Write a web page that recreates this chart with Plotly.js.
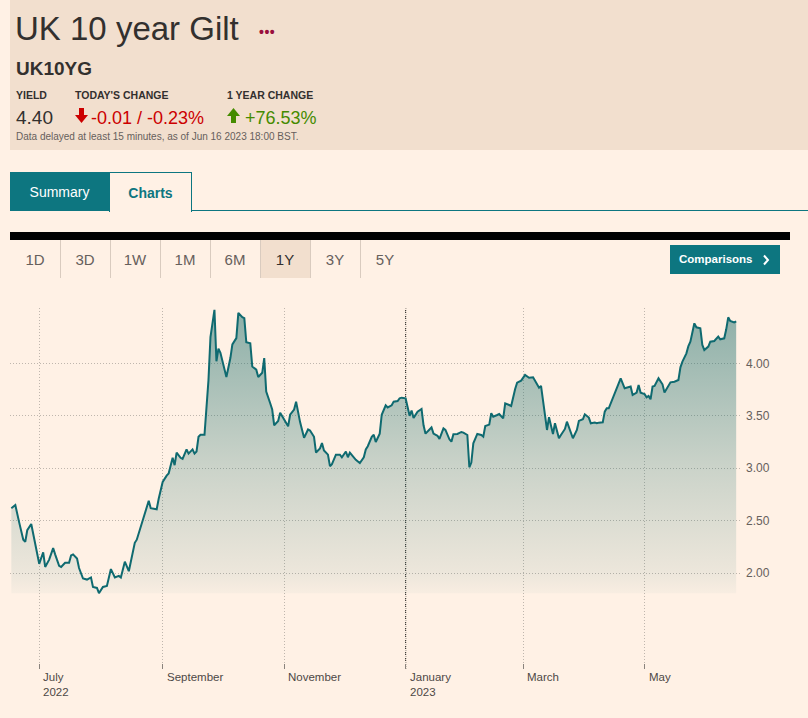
<!DOCTYPE html>
<html>
<head>
<meta charset="utf-8">
<script src="https://cdn.plot.ly/plotly-3.0.1.min.js"></script>
<style>
  html, body { margin:0; padding:0; }
  body { width:808px; height:718px; overflow:hidden; background:#FFF1E5; position:relative;
         font-family:'Liberation Sans', Arial, sans-serif; color:#33302e; }
  .abs { position:absolute; line-height:1; white-space:nowrap; }
  .lbl { font-size:10.5px; font-weight:bold; color:#33302e; }
  .big { font-size:19px; }
  .btn { position:absolute; top:240px; height:38px; width:50px; display:flex; align-items:center;
         justify-content:center; font-size:15px; color:#66605c; }
  .sep { position:absolute; top:240px; height:38px; width:1px; background:#d9cbbf; }
</style>
</head>
<body>
<!-- header -->
<div class="abs" style="left:10px;top:0;width:798px;height:150px;background:#F2DFCE"></div>
<div class="abs" style="left:15px;top:12px;font-size:33px;color:#33302e">UK 10 year Gilt</div>
<div class="abs" style="left:259px;top:25px;font-size:14px;font-weight:bold;color:#990F3D;letter-spacing:0.5px">•••</div>
<div class="abs" style="left:16px;top:59px;font-size:19px;font-weight:bold;color:#33302e">UK10YG</div>
<div class="abs lbl" style="left:16px;top:90px">YIELD</div>
<div class="abs lbl" style="left:75px;top:90px">TODAY'S CHANGE</div>
<div class="abs lbl" style="left:227px;top:90px">1 YEAR CHANGE</div>
<div class="abs big" style="left:16px;top:108px;color:#33302e">4.40</div>
<svg class="abs" style="left:75px;top:108px" width="13" height="15" viewBox="0 0 13 15">
  <polygon points="4,0 9,0 9,7 13,7 6.5,15 0,7 4,7" fill="#CC0000"/>
</svg>
<div class="abs" style="left:91px;top:109px;font-size:18px;color:#CC0000">-0.01 / -0.23%</div>
<svg class="abs" style="left:227px;top:108px" width="13" height="15" viewBox="0 0 13 15">
  <polygon points="6.5,0 13,8 9,8 9,15 4,15 4,8 0,8" fill="#458B00"/>
</svg>
<div class="abs" style="left:245px;top:109px;font-size:18px;color:#458B00">+76.53%</div>
<div class="abs" style="left:16px;top:132px;font-size:10px;color:#66605c">Data delayed at least 15 minutes, as of Jun 16 2023 18:00 BST.</div>

<!-- tabs -->
<div class="abs" style="left:10px;top:172px;width:99px;height:39px;background:#0D7680;color:#fff;font-size:14px;display:flex;align-items:center;justify-content:center">Summary</div>
<div class="abs" style="left:109px;top:172px;width:81px;height:39px;border:1px solid #0D7680;border-bottom:none;color:#0D7680;font-size:14px;font-weight:bold;display:flex;align-items:center;justify-content:center">Charts</div>
<div class="abs" style="left:191px;top:210px;width:617px;height:1px;background:#0D7680"></div>

<!-- period bar -->
<div class="abs" style="left:10px;top:232px;width:780px;height:8px;background:#000"></div>
<div class="abs" style="left:261px;top:240px;width:49px;height:38px;background:#F2DFCE"></div>
<div class="btn" style="left:10px">1D</div>
<div class="btn" style="left:60px">3D</div>
<div class="btn" style="left:110px">1W</div>
<div class="btn" style="left:160px">1M</div>
<div class="btn" style="left:210px">6M</div>
<div class="btn" style="left:260px;color:#33302e">1Y</div>
<div class="btn" style="left:310px">3Y</div>
<div class="btn" style="left:360px">5Y</div>
<div class="sep" style="left:60px"></div>
<div class="sep" style="left:110px"></div>
<div class="sep" style="left:160px"></div>
<div class="sep" style="left:210px"></div>
<div class="sep" style="left:260px"></div>
<div class="sep" style="left:310px"></div>
<div class="sep" style="left:360px"></div>
<div class="abs" style="left:670px;top:245px;width:110px;height:29px;background:#0D7680"></div>
<div class="abs" style="left:679px;top:254px;font-size:11.5px;font-weight:bold;color:#fff">Comparisons</div>
<svg class="abs" style="left:762px;top:254px" width="8" height="12" viewBox="0 0 8 12">
  <polyline points="2,1.5 6,6 2,10.5" fill="none" stroke="#fff" stroke-width="2"/>
</svg>

<div id="chart" style="position:absolute;left:0;top:290px;width:808px;height:428px"></div>

<script>
// ---- data ----
const dates = [
'2022-06-17','2022-06-19','2022-06-21','2022-06-23','2022-06-24','2022-06-25','2022-06-27','2022-06-28','2022-06-30',
'2022-07-01','2022-07-03','2022-07-04','2022-07-06','2022-07-08','2022-07-09','2022-07-11','2022-07-12','2022-07-14',
'2022-07-16','2022-07-17','2022-07-18','2022-07-20','2022-07-21','2022-07-23','2022-07-25','2022-07-27','2022-07-28',
'2022-07-30','2022-07-31','2022-08-02','2022-08-04','2022-08-06','2022-08-08','2022-08-10','2022-08-11','2022-08-13',
'2022-08-15','2022-08-16','2022-08-18','2022-08-19','2022-08-22','2022-08-23','2022-08-25','2022-08-26','2022-08-29',
'2022-08-30','2022-09-01','2022-09-03','2022-09-04','2022-09-06','2022-09-07','2022-09-08','2022-09-10','2022-09-11',
'2022-09-13','2022-09-14','2022-09-16','2022-09-17','2022-09-18','2022-09-19','2022-09-20','2022-09-22','2022-09-24',
'2022-09-25','2022-09-27','2022-09-28','2022-09-29','2022-09-30','2022-10-02','2022-10-03','2022-10-05','2022-10-06',
'2022-10-08','2022-10-09','2022-10-11','2022-10-12','2022-10-13','2022-10-15','2022-10-16','2022-10-18','2022-10-19',
'2022-10-21','2022-10-22','2022-10-23','2022-10-25','2022-10-26','2022-10-27','2022-10-29','2022-10-30','2022-11-01',
'2022-11-03','2022-11-04','2022-11-06','2022-11-07','2022-11-08','2022-11-09','2022-11-11','2022-11-13','2022-11-14',
'2022-11-16','2022-11-17','2022-11-19','2022-11-20','2022-11-21','2022-11-23','2022-11-24','2022-11-25','2022-11-27',
'2022-11-29','2022-11-30','2022-12-02','2022-12-03','2022-12-04','2022-12-06','2022-12-07','2022-12-09','2022-12-11',
'2022-12-12','2022-12-13','2022-12-15','2022-12-16','2022-12-17','2022-12-19','2022-12-20','2022-12-22','2022-12-23',
'2022-12-25','2022-12-26','2022-12-28','2022-12-29','2022-12-30','2023-01-01','2023-01-03','2023-01-04','2023-01-05',
'2023-01-07','2023-01-09','2023-01-10','2023-01-11','2023-01-13','2023-01-14','2023-01-15','2023-01-17','2023-01-18',
'2023-01-20','2023-01-21','2023-01-23','2023-01-24','2023-01-25','2023-01-27','2023-01-29','2023-01-30','2023-02-01',
'2023-02-02','2023-02-03','2023-02-04','2023-02-06','2023-02-08','2023-02-09','2023-02-10','2023-02-12','2023-02-13',
'2023-02-14','2023-02-16','2023-02-17','2023-02-19','2023-02-20','2023-02-22','2023-02-23','2023-02-25','2023-02-26',
'2023-02-28','2023-03-02','2023-03-04','2023-03-06','2023-03-07','2023-03-09','2023-03-10','2023-03-11','2023-03-12',
'2023-03-13','2023-03-14','2023-03-15','2023-03-16','2023-03-17','2023-03-18','2023-03-19','2023-03-20','2023-03-22',
'2023-03-23','2023-03-25','2023-03-26','2023-03-28','2023-03-29','2023-03-31','2023-04-01','2023-04-03','2023-04-04',
'2023-04-06','2023-04-07','2023-04-08','2023-04-10','2023-04-11','2023-04-12','2023-04-13','2023-04-15','2023-04-16',
'2023-04-17','2023-04-19','2023-04-21','2023-04-22','2023-04-24','2023-04-25','2023-04-27','2023-04-28','2023-04-29',
'2023-05-01','2023-05-02','2023-05-03','2023-05-04','2023-05-05','2023-05-06','2023-05-08','2023-05-10','2023-05-11',
'2023-05-13','2023-05-14','2023-05-16','2023-05-18','2023-05-19','2023-05-20','2023-05-22','2023-05-23','2023-05-24',
'2023-05-26','2023-05-27','2023-05-29','2023-05-30','2023-05-31','2023-06-02','2023-06-03','2023-06-05','2023-06-07',
'2023-06-08','2023-06-10','2023-06-11','2023-06-12','2023-06-13','2023-06-15','2023-06-16'
];
const yields = [
2.62,2.65,2.48,2.32,2.30,2.41,2.47,2.38,2.19,
2.09,2.20,2.06,2.13,2.24,2.18,2.07,2.06,2.10,
2.10,2.17,2.18,2.14,2.05,1.95,1.94,1.96,1.87,
1.86,1.81,1.87,1.88,2.04,1.96,1.975,1.96,2.11,
2.02,2.11,2.29,2.32,2.51,2.58,2.69,2.62,2.61,
2.71,2.87,2.93,2.95,3.10,3.03,3.15,3.10,3.09,
3.18,3.14,3.18,3.14,3.16,3.30,3.32,3.32,3.84,
4.25,4.51,4.02,4.14,4.10,3.94,3.87,4.05,4.18,
4.24,4.48,4.44,4.43,4.20,4.19,3.97,3.94,3.87,
3.91,4.05,3.73,3.62,3.56,3.41,3.45,3.53,3.46,
3.40,3.51,3.56,3.635,3.52,3.44,3.29,3.37,3.36,
3.30,3.15,3.19,3.24,3.17,3.13,3.02,3.04,3.13,
3.13,3.105,3.16,3.105,3.15,3.095,3.08,3.05,3.105,
3.18,3.21,3.30,3.32,3.25,3.33,3.51,3.60,3.58,
3.60,3.635,3.64,3.667,3.673,3.667,3.50,3.55,3.48,
3.54,3.565,3.41,3.33,3.37,3.39,3.33,3.31,3.28,
3.38,3.365,3.276,3.254,3.324,3.327,3.346,3.34,3.317,
3.01,3.054,3.238,3.327,3.317,3.302,3.403,3.416,3.524,
3.492,3.508,3.517,3.476,3.619,3.603,3.594,3.756,3.816,
3.835,3.889,3.863,3.867,3.835,3.768,3.784,3.651,3.508,
3.365,3.487,3.403,3.327,3.429,3.359,3.286,3.317,3.375,
3.444,3.349,3.286,3.365,3.451,3.467,3.514,3.483,3.429,
3.435,3.429,3.435,3.438,3.54,3.571,3.571,3.667,3.705,
3.746,3.857,3.762,3.768,3.778,3.698,3.721,3.794,3.721,
3.708,3.676,3.689,3.657,3.778,3.784,3.857,3.80,3.721,
3.778,3.819,3.825,3.841,3.962,4.016,4.095,4.165,4.206,
4.381,4.343,4.333,4.175,4.127,4.159,4.206,4.213,4.254,
4.229,4.238,4.324,4.438,4.403,4.39,4.40
];
const tickDates  = ['2022-07-01','2022-09-01','2022-11-01','2023-01-01','2023-03-01','2023-05-01'];
const tickLabels = ['July<br>2022','September','November','January<br>2023','March','May'];
const yTicks     = [2.0, 2.5, 3.0, 3.5, 4.0];
const yearDivider = '2023-01-01';

// ---- chart ----
const yMin = Math.min(...yields);
const yMax = Math.max(...yields);
const baselineTrace = {
  x: [dates[0], dates[dates.length - 1]], y: [yMin, yMin],
  mode: 'lines', line: {width: 0, color: 'rgba(0,0,0,0)'}, hoverinfo: 'skip', showlegend: false
};
const tint = 'rgba(25,109,107,';
const seriesTrace = {
  x: dates, y: yields, mode: 'lines', showlegend: false,
  line: {color: '#0f6a70', width: 2},
  fill: 'tonexty',
  fillgradient: {
    type: 'vertical', start: yMin, stop: yMax,
    colorscale: [[0, tint + '0.03)'], [0.07, tint + '0.08)'], [0.45, tint + '0.23)'], [1, tint + '0.5)']]
  }
};
const xLabelAnnotations = tickDates.map((d, i) => ({
  x: d, xref: 'x', y: 0, yref: 'paper', xanchor: 'left', yanchor: 'top',
  xshift: 2, yshift: 0, align: 'left', showarrow: false, text: tickLabels[i],
  font: {family: "'Liberation Sans', Arial, sans-serif", size: 11.5, color: '#4d4845'}
}));
const gridDash = '1px,2px';
const chartLayout = {
  width: 808, height: 428,
  margin: {l: 10, r: 68, t: 18, b: 49, pad: 0},
  paper_bgcolor: 'rgba(0,0,0,0)', plot_bgcolor: 'rgba(0,0,0,0)',
  font: {family: "'Liberation Sans', Arial, sans-serif", color: '#66605c'},
  showlegend: false,
  xaxis: {
    type: 'date', range: ['2022-06-16 08:00', '2023-06-17 22:00'],
    tickmode: 'array', tickvals: tickDates, showticklabels: false,
    ticks: 'inside', ticklen: 5, tickcolor: '#8a837d', tickwidth: 1,
    showgrid: true, gridcolor: '#bfb6ad', griddash: gridDash, gridwidth: 1,
    zeroline: false, showline: false, fixedrange: true
  },
  yaxis: {
    side: 'right', range: [1.088, 4.527],
    tickmode: 'array', tickvals: yTicks, tickformat: '.2f',
    ticks: '', ticklabelstandoff: 5,
    tickfont: {size: 12, color: '#66605c'},
    showgrid: true, gridcolor: '#bfb6ad', griddash: gridDash, gridwidth: 1,
    zeroline: false, showline: false, fixedrange: true
  },
  shapes: [{
    type: 'line', xref: 'x', yref: 'paper', x0: yearDivider, x1: yearDivider, y0: 0, y1: 1,
    line: {color: '#3d3935', width: 1.2, dash: '1px,1px'}, layer: 'below'
  }],
  annotations: xLabelAnnotations
};
Plotly.newPlot('chart', [baselineTrace, seriesTrace], chartLayout, {staticPlot: true, displayModeBar: false});
</script>
</body>
</html>
